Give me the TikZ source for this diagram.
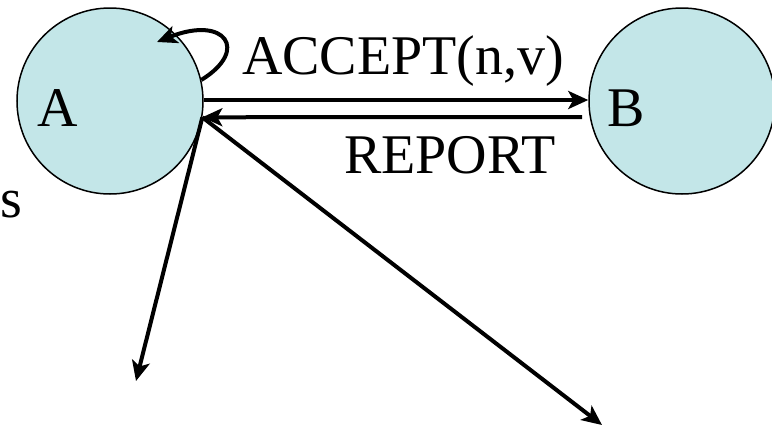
\documentclass[tikz,border=0pt]{standalone}
\usepackage{fontspec}
\setmainfont{Liberation Serif}
\usetikzlibrary{arrows.meta}
\definecolor{statefill}{RGB}{195,230,232}
\tikzset{
  statecirc/.style={circle,draw=black,line width=1.5pt,fill=statefill,minimum size=186pt,inner sep=0pt},
  lbl/.style={inner sep=0pt,anchor=base west,font=\fontsize{56}{60}\selectfont},
  msg/.style={line width=4pt,-{Stealth[length=20pt,width=18pt,inset=5pt]}}
}
\begin{document}
\begin{tikzpicture}[x=1pt,y=-1pt]
\useasboundingbox (0,0) rectangle (772,429);
\node[statecirc] (A) at (110,101) {};
\node[statecirc] (B) at (682,101) {};
\node[lbl] (la) at (37,126) {A};
\node[lbl] (lb) at (607,126) {B};
\node[lbl] (acc) at (242,74) {ACCEPT(n,v)};
\node[lbl] (rep) at (344,173) {REPORT};
\node[lbl] (s) at (0,217) {s};
\coordinate (rs) at (582,117);
\coordinate (loopend) at (157,42);
\coordinate (d1) at (136,381);
\coordinate (d2) at (602,425);
\draw[msg] ([yshift=1pt]A.east) -- ([yshift=1pt]B.west);
\draw[msg] (rs) -- (A.-10);
\draw[msg] (A.13) .. controls (250,50) and (225,15) .. (loopend);
\draw[msg] (A.-10) -- (d1);
\draw[msg] (A.-10) -- (d2);
\end{tikzpicture}
\end{document}
